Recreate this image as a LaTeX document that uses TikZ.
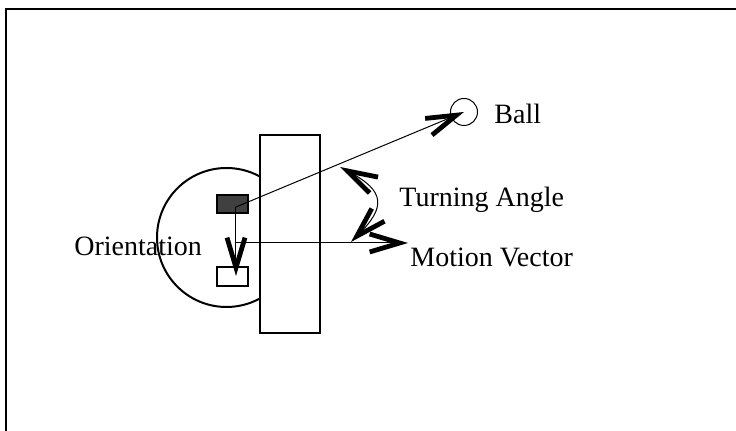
\documentclass[tikz,border=0pt]{standalone}
\usepackage{fontspec}
\setmainfont{Liberation Serif}
\usetikzlibrary{arrows.meta}
\definecolor{headcol}{HTML}{404040}
\tikzset{
  shell/.style={draw=black, line width=1pt, inner sep=0pt},
  plate/.style={shell, fill=white, minimum width=30pt, minimum height=99pt},
  tag/.style={shell, minimum width=15.5pt, minimum height=9pt},
  lbl/.style={anchor=base west, inner sep=0pt, font=\fontsize{14}{16}\selectfont},
  vec/.style={line width=0.5pt},
  >={Straight Barb[length=15pt, width=9pt, line width=2.4pt]}}

\begin{document}
\begin{tikzpicture}[x=0.5pt, y=-0.5pt]
  \useasboundingbox (0,0) rectangle (736,431);
  \clip (0,0) rectangle (736,431);
  \draw[line width=1pt] (6,9.5) rectangle (820,520);
  % robot
  \node[shell, circle, minimum size=69.5pt] (body) at (226.5,237.5) {};
  \node[plate] (bumper) at (290,234) {};
  \node[tag, fill=headcol] (head) at (232.5,204) {};
  \node[tag, fill=white, minimum height=9.5pt] (tail) at (232.5,276.5) {};
  \node[shell, circle, line width=0.5pt, minimum size=13.5pt] (ball) at (464,112) {};
  \coordinate (o) at (236,207);
  \coordinate (ot) at (236,276);
  \coordinate (m) at (236,243);
  \coordinate (mv) at (408,243);
  \coordinate (ta) at (340,167);
  \coordinate (tb) at (351,242);
  % vectors
  \draw[vec, ->] (o) -- (ball.center);
  \draw[vec, ->] (o) -- (ot);
  \draw[vec, ->] (m) -- (mv);
  \draw[vec, <->] (ta) .. controls (385,191) and (386,207) .. (tb);
  % labels
  \node[lbl] (ballname) at (494,124) {Ball};
  \node[lbl] (turn) at (399,207) {Turning Angle};
  \node[lbl] (orient) at (74,256) {Orientation};
  \node[lbl] (motion) at (410,267) {Motion Vector};
\end{tikzpicture}
\end{document}
